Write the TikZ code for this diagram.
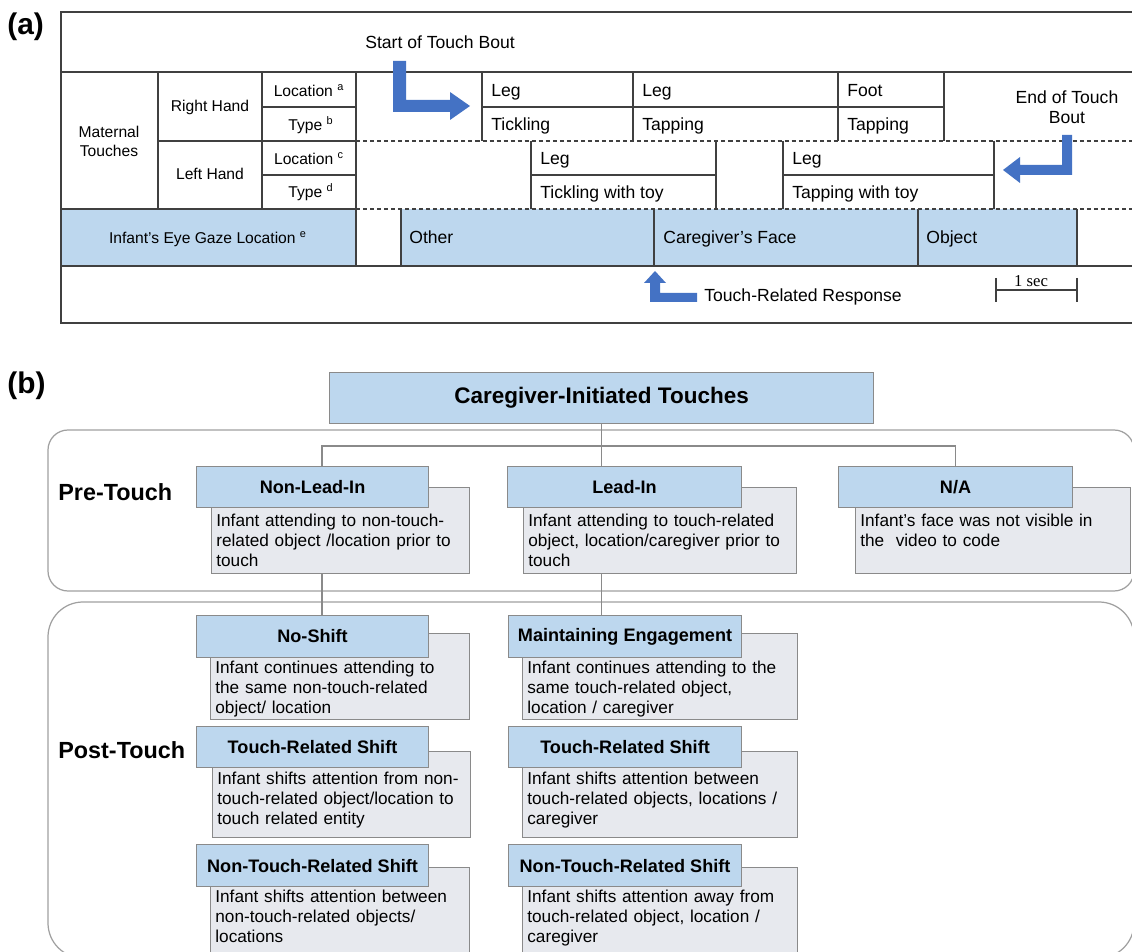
\documentclass[tikz,border=0pt]{standalone}
\usepackage{fontspec}
\setmainfont{Liberation Sans}
\newfontfamily\serifft{Liberation Serif}
\definecolor{cellblue}{HTML}{BDD7EE}
\definecolor{descgray}{HTML}{E7E9EE}
\definecolor{bordgray}{HTML}{8A8A8A}
\definecolor{roundgray}{HTML}{A0A0A0}
\definecolor{arrowblue}{HTML}{4472C4}
\definecolor{linedark}{HTML}{404040}
\def\PX{0.02cm}
\newcommand\HdrBox[6]{\node[hdr, minimum width={(#4-#2)*\PX}, minimum height={(#5-#3)*\PX}] (#1) at (#2,#3) {#6};}
\newcommand\DescBox[7]{\node[gry, minimum width={(#4-#2)*\PX}, minimum height={(#5-#3)*\PX}] (#1) at (#2,#3) {};
  \node[desc, text width={(#4-#2-6)*\PX}] (#1t) at ({#2+5},#6) {#7};}
\begin{document}
\begin{tikzpicture}[x=0.02cm,y=-0.02cm,
  aline/.style={draw=linedark, line width=0.7pt},
  dline/.style={draw=linedark, line width=0.7pt, dash pattern=on 2.3pt off 1.7pt},
  lbl/.style={inner sep=0pt, anchor=base west, font=\fontsize{10}{12}\selectfont},
  hlbl/.style={inner sep=0pt, anchor=base, font=\fontsize{8.9}{10.8}\selectfont},
  panel/.style={inner sep=0pt, anchor=west, font=\fontsize{17}{20}\selectfont\bfseries},
  hdr/.style={draw=bordgray, fill=cellblue, line width=0.6pt, inner sep=0pt, anchor=north west, font=\fontsize{10.3}{12}\selectfont\bfseries},
  gry/.style={draw=bordgray, fill=descgray, line width=0.6pt, inner sep=0pt, anchor=north west},
  desc/.style={inner sep=0pt, anchor=north west, align=left, font=\fontsize{9.8}{11.3}\selectfont},
  conn/.style={draw=bordgray, line width=0.6pt},
  phase/.style={draw=roundgray, line width=0.7pt},
  plabel/.style={inner sep=0pt, anchor=west, font=\fontsize{13.3}{16}\selectfont\bfseries}]
\useasboundingbox (0,0) rectangle (1132,952);
\fill[white] (0,0) rectangle (1132,952);

% ---------------- (a) ----------------
\node[panel] (pa) at (7,27) {(a)};
\fill[cellblue] (61,209) rectangle (356,266);
\fill[cellblue] (401,209) rectangle (1077,266);
\draw[aline] (1140,12) -- (61,12) -- (61,323) -- (1140,323);
\draw[aline] (61,72) -- (1140,72);
\draw[aline] (61,266) -- (1140,266);
\draw[aline] (61,209) -- (356,209);
\draw[aline] (158,72) -- (158,209);
\draw[aline] (262,72) -- (262,209);
\draw[aline] (356,72) -- (356,266);
\draw[aline] (158,141) -- (356,141);
\draw[aline] (262,107) -- (356,107);
\draw[aline] (262,175) -- (356,175);
\draw[dline] (356,141) -- (1140,141);
\draw[dline] (356,209) -- (1140,209);
\draw[aline] (482,72) -- (482,141) (633,72) -- (633,141) (838,72) -- (838,141) (944,72) -- (944,141) (482,107) -- (944,107);
\draw[aline] (531,141) -- (531,209) (716,141) -- (716,209) (531,175) -- (716,175);
\draw[aline] (783,141) -- (783,209) (994,141) -- (994,209) (783,175) -- (994,175);
\draw[aline] (401,209) -- (401,266) (654,209) -- (654,266) (918,209) -- (918,266) (1077,209) -- (1077,266);

\node[hlbl, anchor=north, align=center] (mat) at (109,126) {Maternal\\Touches};
\node[hlbl] (rh) at (210,112) {Right Hand};
\node[hlbl] (lh) at (210,180) {Left Hand};
\node[hlbl] (la) at (309,97) {Location \textsuperscript{a}};
\node[hlbl] (tb) at (311,131) {Type \textsuperscript{b}};
\node[hlbl] (lc) at (309,165) {Location \textsuperscript{c}};
\node[hlbl] (td) at (311,198) {Type \textsuperscript{d}};
\node[hlbl] (eg) at (208,244) {Infant’s Eye Gaze Location \textsuperscript{e}};

\node[lbl] (r1) at (491,97) {Leg};
\node[lbl] (r2) at (491,131) {Tickling};
\node[lbl] (r3) at (642,97) {Leg};
\node[lbl] (r4) at (642,131) {Tapping};
\node[lbl] (r5) at (847,97) {Foot};
\node[lbl] (r6) at (847,131) {Tapping};
\node[lbl] (l1) at (540,165) {Leg};
\node[lbl] (l2) at (540,199) {Tickling with toy};
\node[lbl] (l3) at (792,165) {Leg};
\node[lbl] (l4) at (792,199) {Tapping with toy};
\node[lbl] (g1) at (409,244) {Other};
\node[lbl] (g2) at (663,244) {Caregiver’s Face};
\node[lbl] (g3) at (926,244) {Object};

\node[lbl] (start) at (365,49) {Start of Touch Bout};
\node[inner sep=0pt, anchor=north, align=center, font=\fontsize{10}{11.9}\selectfont] (endb) at (1067,90) {End of Touch\\Bout};
\node[lbl] (trr) at (704,302) {Touch-Related Response};

\fill[arrowblue] (393,61) -- (406,61) -- (406,100) -- (450,100) -- (450,92) -- (470,106) -- (450,120) -- (450,112) -- (393,112) -- cycle;
\fill[arrowblue] (1062,135) -- (1072,135) -- (1072,175) -- (1020,175) -- (1020,183) -- (1003,170) -- (1020,157) -- (1020,165) -- (1062,165) -- cycle;
\fill[arrowblue] (697,293) -- (660,293) -- (660,283) -- (666,283) -- (655,271) -- (644,283) -- (650,283) -- (650,302) -- (697,302) -- cycle;

\draw[aline, line width=0.6pt] (996,278) -- (996,302) (996,290) -- (1077,290) (1077,278) -- (1077,302);
\node[inner sep=0pt, anchor=base, font=\serifft\fontsize{9.5}{11}\selectfont] (sec) at (1031,287) {1 sec};

% ---------------- (b) ----------------
\node[panel] (pb) at (7,386) {(b)};
\draw[phase, rounded corners=0.4cm] (48,430) rectangle (1134,591);
\draw[phase, rounded corners=0.7cm] (48,602) rectangle (1134,958);
\node[plabel] (pre) at (58,492) {Pre-Touch};
\node[plabel] (post) at (58,750) {Post-Touch};

\node[hdr, minimum width={544*\PX}, minimum height={51*\PX}, font=\fontsize{12.8}{15}\selectfont\bfseries] (title) at (329,372) {Caregiver-Initiated Touches};

\DescBox{nlid}{211}{487}{469}{573}{514}{Infant attending to non-touch-\\related object /location prior to\\touch}
\DescBox{lid}{523}{487}{796}{573}{514}{Infant attending to touch-related\\object, location/caregiver prior to\\touch}
\DescBox{nad}{855}{487}{1130}{573}{514}{Infant’s face was not visible in\\the\ \ video to code}
\HdrBox{nli}{196}{466}{428}{507}{Non-Lead-In}
\HdrBox{li}{507}{466}{741}{507}{Lead-In}
\HdrBox{na}{838}{466}{1072}{507}{N/A}

\DescBox{nsd}{210}{633}{469}{719}{661}{Infant continues attending to\\the same non-touch-related\\object/ location}
\DescBox{trsad}{212}{751}{470}{837}{772}{Infant shifts attention from non-\\touch-related object/location to\\touch related entity}
\DescBox{ntrsad}{210}{867}{469}{962}{890}{Infant shifts attention between\\non-touch-related objects/\\locations}
\DescBox{med}{522}{633}{797}{719}{661}{Infant continues attending to the\\same touch-related object,\\location / caregiver}
\DescBox{trsbd}{522}{751}{797}{837}{772}{Infant shifts attention between\\touch-related objects, locations /\\caregiver}
\DescBox{ntrsbd}{522}{867}{797}{962}{890}{Infant shifts attention away from\\touch-related object, location /\\caregiver}
\HdrBox{ns}{196}{615}{428}{657}{No-Shift}
\HdrBox{trsa}{196}{726}{428}{767}{Touch-Related Shift}
\HdrBox{ntrsa}{196}{844}{428}{886}{Non-Touch-Related Shift}
\HdrBox{me}{508}{615}{741}{657}{Maintaining Engagement}
\HdrBox{trsb}{508}{726}{741}{767}{Touch-Related Shift}
\HdrBox{ntrsb}{508}{844}{741}{886}{Non-Touch-Related Shift}

\coordinate (jl) at (322,446);
\draw[conn] (title.south) -- (title.south |- li.north);
\draw[conn] (jl |- nli.north) -- (jl) -- (jl -| na.north) -- (na.north);
\draw[conn] (jl |- nlid.south) -- (jl |- ns.north);
\draw[conn] (title.south |- lid.south) -- (title.south |- me.north);
\end{tikzpicture}
\end{document}
